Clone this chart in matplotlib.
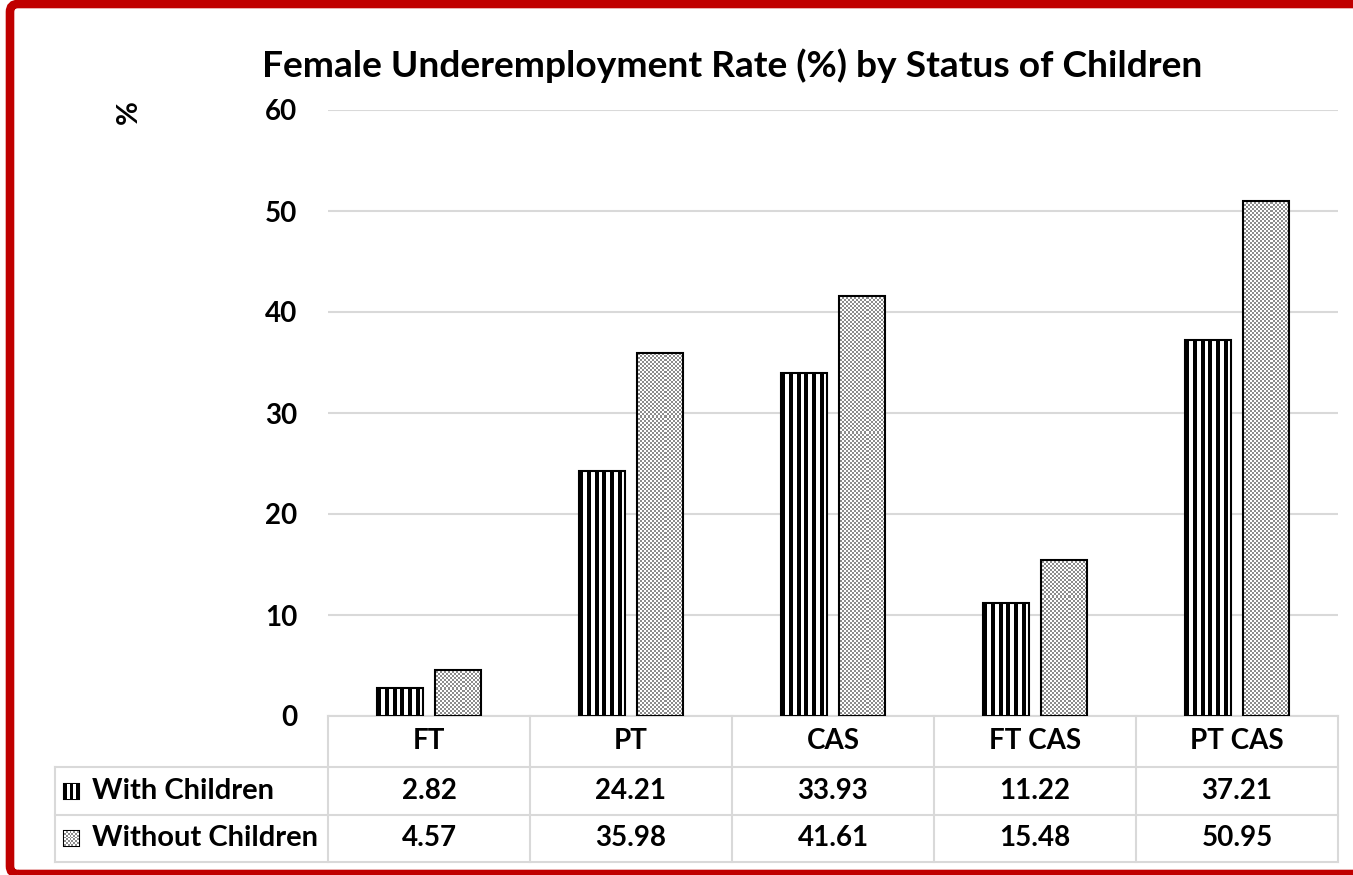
import matplotlib
matplotlib.use("Agg")
import matplotlib.pyplot as plt
from matplotlib.patches import Rectangle, FancyBboxPatch
from matplotlib.colors import ListedColormap
import numpy as np

# chart data
categories = ["FT", "PT", "CAS", "FT CAS", "PT CAS"]
with_children = [2.82, 24.21, 33.93, 11.22, 37.21]
without_children = [4.57, 35.98, 41.61, 15.48, 50.95]
series_names = ["With Children", "Without Children"]
y_ticks = [0, 10, 20, 30, 40, 50, 60]

plt.rcParams['font.family'] = ['Lato', 'DejaVu Sans']
plt.rcParams['font.weight'] = 'bold'

W, H = 1353, 875
fig = plt.figure(figsize=(W / 100, H / 100), dpi=100)
fig.patch.set_facecolor('white')

# plot area in pixels: x 328..1338, y 110..716
ax = fig.add_axes([328 / W, 1 - 716 / H, 1010 / W, 606 / H])

x = np.arange(len(categories))
bw = 0.228
off = 0.144
grid_c = '#d9d9d9'
fs = 20
xlim = (-0.5, len(categories) - 0.5)

# textures: fine grey/white checker and black/white vertical stripes
yy, xx = np.mgrid[0:303, 0:505]
checker = ((yy + xx) % 2).astype(float)
chk_cmap = ListedColormap(['white', '#8c8c8c'])
stripe_cmap = ListedColormap(['white', 'black'])
stripes = (np.arange(12) % 2 == 0).astype(float)[None, :]

ax.set_xlim(*xlim)
ax.set_ylim(0, 60)

b1 = ax.bar(x - off, with_children, bw, fill=False, edgecolor='black',
            linewidth=1.5, zorder=4)
for p in b1:
    ax.imshow(stripes, cmap=stripe_cmap, interpolation='nearest', aspect='auto',
              extent=(p.get_x(), p.get_x() + p.get_width(), 0, p.get_height()),
              vmin=0, vmax=1, zorder=3)
b2 = ax.bar(x + off, without_children, bw, fill=False, edgecolor='black',
            linewidth=1.5, zorder=4)
for p in b2:
    im = ax.imshow(checker, cmap=chk_cmap, interpolation='nearest',
                   extent=(xlim[0], xlim[1], 0, 60), aspect='auto',
                   zorder=3, vmin=0, vmax=1)
    im.set_clip_path(p)

ax.set_xlim(*xlim)
ax.set_ylim(0, 60)
ax.set_yticks(y_ticks)
ax.set_yticklabels([str(t) for t in y_ticks], fontsize=fs, fontweight='bold')
ax.set_xticks([])
ax.tick_params(axis='y', length=0, pad=22)
for s in ax.spines.values():
    s.set_visible(False)
ax.grid(axis='y', color=grid_c, linewidth=1.5, zorder=0)
ax.set_axisbelow(True)

fig.text(732 / W, 1 - 66 / H,
         "Female Underemployment Rate (%) by Status of Children",
         ha='center', va='center', fontsize=26.7, fontweight='bold')
fig.text(129 / W, 1 - 112 / H, "%", rotation=90, ha='center', va='center',
         fontsize=21, fontweight='bold')

# data table under the chart
def ay(py):
    return (716 - py) / 606

def axx(px):
    return (px - 328) / 1010

tr = ax.transAxes
lkw = dict(color=grid_c, linewidth=1.5, transform=tr, clip_on=False)
ax.plot([0, 1], [ay(716), ay(716)], **lkw)
for py in [767, 815, 862]:
    ax.plot([axx(55), 1], [ay(py), ay(py)], **lkw)
for i in range(len(categories) + 1):
    ax.plot([i / len(categories)] * 2, [ay(716), ay(862)], **lkw)
ax.plot([axx(55)] * 2, [ay(767), ay(862)], **lkw)

bt = ax.get_xaxis_transform()
for i, c in enumerate(categories):
    ax.text(i, ay(741), c, transform=bt, ha='center', va='center',
            fontsize=fs, fontweight='bold', clip_on=False)
    ax.text(i, ay(791), f"{with_children[i]:.2f}", transform=bt, ha='center',
            va='center', fontsize=fs, fontweight='bold', clip_on=False)
    ax.text(i, ay(838), f"{without_children[i]:.2f}", transform=bt, ha='center',
            va='center', fontsize=fs, fontweight='bold', clip_on=False)

row_y = [791, 838]
for name, py in zip(series_names, row_y):
    ax.text(axx(92), ay(py), name, transform=tr, ha='left', va='center',
            fontsize=21, fontweight='bold', clip_on=False)

# legend keys in the row-label cells
ax.imshow((np.arange(5) % 2 == 0).astype(float)[None, :], cmap=stripe_cmap,
          interpolation='nearest', extent=(axx(64), axx(79), ay(799), ay(784)),
          transform=tr, aspect='auto', vmin=0, vmax=1, clip_on=False, zorder=2)
ax.add_patch(Rectangle((axx(64), ay(799)), 15 / 1010, 15 / 606, transform=tr,
                       fill=False, edgecolor='black', linewidth=1.5, clip_on=False))
ax.imshow(checker[:8, :8], cmap=chk_cmap, interpolation='nearest',
          extent=(axx(64), axx(79), ay(846), ay(831)), transform=tr,
          aspect='auto', vmin=0, vmax=1, clip_on=False, zorder=2)
ax.add_patch(Rectangle((axx(64), ay(846)), 15 / 1010, 15 / 606, transform=tr,
                       fill=False, edgecolor='black', linewidth=1.5, clip_on=False))

ax.set_xlim(*xlim)
ax.set_ylim(0, 60)

# red frame
frame = FancyBboxPatch((0.10, 0.01), 13.8, 8.70,
                       boxstyle="round,pad=0,rounding_size=0.08",
                       transform=fig.dpi_scale_trans, fill=False,
                       edgecolor='#c00000', linewidth=6.2)
fig.patches.append(frame)

fig.savefig("out.png", dpi=100)
